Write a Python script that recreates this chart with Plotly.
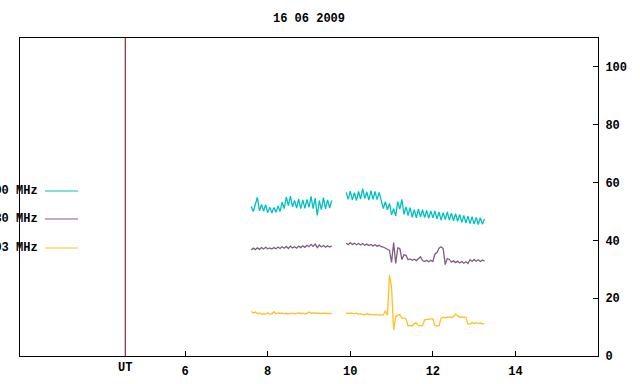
import numpy as np
import plotly.graph_objects as go

# ---- data ----
title_text = "16 06 2009"
series_names = ["2000 MHz", "1080 MHz", "1003 MHz"]
series_colors = ["#00c0c0", "#7f5f80", "#ffc020"]

# time samples (UT hours) of the two observing segments
t1 = [round(7.60 + 0.05 * i, 2) for i in range(40)]
t2 = [round(9.90 + 0.05 * i, 2) for i in range(68)]

cyan1 = [51.8, 50.0, 52.4, 54.9, 50.2, 52.4, 50.1, 52.3, 49.6, 51.5,
         49.5, 51.4, 49.7, 51.9, 50.0, 53.2, 51.0, 55.0, 52.0, 55.3,
         51.6, 53.8, 51.2, 54.3, 51.0, 54.0, 51.1, 54.2, 51.4, 55.2,
         51.0, 54.6, 48.6, 53.8, 50.6, 54.8, 50.9, 54.0, 51.2, 53.8]
cyan2 = [56.6, 54.2, 57.0, 54.0, 56.5, 53.8, 56.9, 54.3, 57.9, 54.5,
         56.8, 53.9, 57.2, 54.2, 56.9, 54.1, 56.6, 53.2, 51.0, 53.4,
         50.6, 52.8, 48.8, 51.0, 48.4, 53.4, 50.8, 54.2, 49.0, 51.6,
         48.6, 51.3, 48.0, 50.6, 47.8, 50.8, 48.1, 50.6, 47.9, 50.4,
         47.6, 50.2, 47.8, 50.2, 47.4, 49.8, 47.0, 49.6, 47.2, 49.8,
         47.0, 49.4, 46.8, 49.2, 46.6, 49.0, 46.2, 48.6, 46.0, 48.4,
         45.8, 48.2, 45.6, 47.9, 45.5, 47.8, 45.6, 47.4]

purple1 = [36.7, 37.3, 36.8, 37.4, 36.9, 37.5, 37.0, 37.6, 37.1, 37.4,
           37.0, 37.5, 37.1, 37.7, 37.2, 37.8, 37.3, 37.9, 37.2, 38.0,
           37.4, 37.8, 37.3, 38.0, 37.5, 38.1, 37.6, 38.3, 37.8, 38.6,
           37.9, 38.7, 37.5, 38.4, 37.7, 38.2, 37.6, 38.1, 37.7, 38.1]
purple2 = [39.1, 38.5, 39.2, 38.6, 39.0, 38.5, 38.9, 38.4, 38.9, 38.3,
           38.7, 38.2, 38.6, 38.1, 38.5, 38.0, 38.3, 37.8, 37.7, 37.3,
           37.1, 36.5, 32.4, 39.2, 32.0, 37.4, 37.2, 33.4, 35.0, 34.8,
           33.3, 33.6, 33.1, 33.5, 33.0, 33.7, 34.3, 33.0, 32.7, 33.1,
           32.6, 33.1, 32.7, 35.2, 35.8, 37.3, 37.8, 37.2, 31.6, 33.7,
           33.4, 32.5, 32.9, 32.3, 32.8, 32.2, 32.7, 32.1, 32.6, 32.0,
           33.3, 32.7, 33.4, 32.8, 33.3, 32.7, 33.2, 32.8]

yellow1 = [15.4, 14.9, 15.2, 14.7, 14.8, 14.5, 14.6, 14.5, 14.9, 14.5,
           14.6, 15.3, 14.6, 14.9, 14.7, 14.8, 14.6, 14.7, 14.5, 14.6,
           14.8, 14.6, 14.7, 14.9, 14.7, 14.8, 14.6, 14.7, 15.2, 14.8,
           14.9, 14.8, 14.8, 14.8, 14.7, 14.8, 14.7, 14.7, 14.7, 14.7]
yellow2 = [14.9, 14.7, 14.9, 14.8, 14.6, 14.8, 14.5, 14.6, 14.5, 14.2,
           14.6, 14.4, 14.3, 14.3, 14.2, 14.2, 14.2, 14.2, 14.2, 15.6,
           14.1, 28.0, 23.8, 9.0, 13.6, 14.2, 14.3, 13.1, 13.1, 12.8,
           10.4, 10.6, 10.4, 11.3, 11.4, 10.5, 10.4, 10.5, 12.5, 12.6,
           12.5, 12.6, 12.9, 10.6, 10.4, 10.5, 13.1, 13.4, 13.2, 13.4,
           13.5, 13.3, 13.6, 14.5, 13.8, 13.4, 13.5, 13.4, 13.4, 11.1,
           11.0, 11.6, 11.2, 11.5, 11.2, 11.4, 11.1, 11.3]

x_tick_vals = [6, 8, 10, 12, 14]
x_tick_text = ["6", "8", "10", "12", "14"]
y_tick_vals = [0, 20, 40, 60, 80, 100]
ut_marker = 4.55
x_range = [2, 16]
y_range = [0, 110]

# ---- figure ----
FONT = dict(family="Liberation Mono, DejaVu Sans Mono, monospace", size=12,
            color="black", weight="bold")

fig = go.Figure()
series = [(cyan1, cyan2), (purple1, purple2), (yellow1, yellow2)]
for name, color, (s1, s2) in zip(series_names, series_colors, series):
    fig.add_trace(go.Scatter(
        x=t1 + [None] + t2, y=s1 + [None] + s2,
        mode="lines", name=name, showlegend=False,
        line=dict(color=color, width=1.3),
        connectgaps=False,
    ))

# manual legend (gnuplot style, left, partly cut off)
legend_y = [191, 219, 248]
plot_l, plot_r, plot_t, plot_b = 20, 598, 38, 356
W, H = plot_r - plot_l, plot_b - plot_t
def px(xp):
    return (xp - plot_l) / W
def py(yp):
    return (plot_b - yp) / H

annotations = []
shapes = []
for name, color, ly in zip(series_names, series_colors, legend_y):
    annotations.append(dict(x=px(40), y=py(ly), xref="paper", yref="paper",
                            text=name, showarrow=False, xanchor="right",
                            yanchor="middle", font=FONT))
    shapes.append(dict(type="line", xref="paper", yref="paper",
                       x0=px(45), x1=px(78), y0=py(ly), y1=py(ly),
                       line=dict(color=color, width=1)))

# UT marker
shapes.append(dict(type="line", xref="x", yref="paper", x0=ut_marker, x1=ut_marker,
                   y0=0, y1=1, line=dict(color="#700000", width=1)))
annotations.append(dict(x=ut_marker, y=py(368), xref="x", yref="paper", text="UT",
                        showarrow=False, xanchor="center", yanchor="middle", font=FONT))
# title
annotations.append(dict(x=0.5, y=py(19), xref="paper", yref="paper", text=title_text,
                        showarrow=False, xanchor="center", yanchor="middle", font=FONT))

fig.update_layout(
    width=640, height=384,
    margin=dict(l=plot_l, r=640 - plot_r, t=plot_t, b=384 - plot_b, pad=0),
    paper_bgcolor="white", plot_bgcolor="white",
    font=FONT,
    showlegend=False,
    annotations=annotations,
    shapes=shapes,
    xaxis=dict(range=x_range, tickvals=x_tick_vals, ticktext=x_tick_text,
               ticks="inside", ticklen=5, tickwidth=1, tickcolor="black",
               showline=True, linecolor="black", linewidth=1, mirror=True,
               showgrid=False, zeroline=False, tickfont=FONT,
               ticklabelstandoff=4, automargin=False),
    yaxis=dict(range=y_range, tickvals=y_tick_vals, side="right",
               ticks="inside", ticklen=5, tickwidth=1, tickcolor="black",
               showline=True, linecolor="black", linewidth=1, mirror=True,
               showgrid=False, zeroline=False, tickfont=FONT,
               ticklabelstandoff=4, automargin=False),
)

fig.write_html("out.html", config={"displayModeBar": False},
               post_script="document.body.style.margin='0';document.body.style.overflow='hidden';")
